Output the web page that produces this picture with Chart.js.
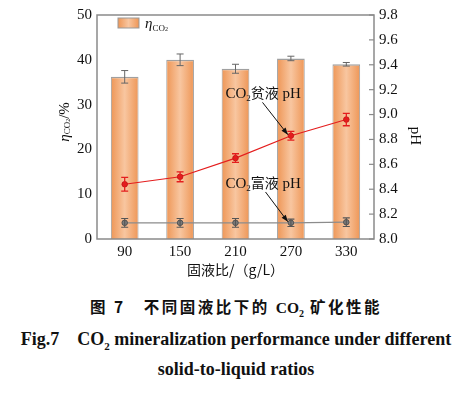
<!DOCTYPE html>
<html><head><meta charset="utf-8">
<script src="https://cdn.jsdelivr.net/npm/chart.js@4/dist/chart.umd.min.js"></script>
<style>
html,body{margin:0;padding:0;background:#fff;width:472px;height:394px;overflow:hidden;}
#wrap{position:relative;width:472px;height:285px;}
.cap{position:absolute;left:0;width:472px;text-align:center;color:#111;white-space:nowrap;line-height:1.2;}
#c1{top:297px;font-family:"Noto Sans CJK SC",sans-serif;font-size:15.5px;font-weight:bold;letter-spacing:2.5px;}
#c2{top:329px;font-family:"Liberation Serif",serif;font-size:18px;font-weight:bold;}
#c3{top:359px;font-family:"Liberation Serif",serif;font-size:18px;font-weight:bold;}
sub{line-height:0;}
</style></head><body>
<div id="wrap"><canvas id="ch" width="472" height="285"></canvas></div>
<div class="cap" id="c1">图 7　不同固液比下的 <span style="font-family:'Liberation Serif',serif;letter-spacing:0">CO<sub style="font-size:10px">2</sub></span> 矿化性能</div>
<div class="cap" id="c2">Fig.7　CO<sub style="font-size:11px">2</sub> mineralization performance under different</div>
<div class="cap" id="c3">solid-to-liquid ratios</div>
<script>
const categories = ["90","150","210","270","330"];
const etaCO2 = [36.2, 40.0, 38.0, 40.3, 39.0];
const etaErr = [1.4, 1.3, 1.0, 0.5, 0.4];
const leanPH = [8.44, 8.50, 8.65, 8.83, 8.96];
const leanErr = [0.055, 0.04, 0.035, 0.035, 0.05];
const richPH = [8.13, 8.13, 8.13, 8.13, 8.135];
const richErr = [0.035, 0.035, 0.035, 0.03, 0.035];
const leftTicks = [0,10,20,30,40,50];
const rightTicks = [8.0,8.2,8.4,8.6,8.8,9.0,9.2,9.4,9.6,9.8];

const SERIF = '"Liberation Serif", serif';
const CJK = '"Noto Sans CJK SC", sans-serif';
const BAR_PCT = 0.5;

function barGradient(ctx){
  const chart = ctx.chart;
  const xs = chart.scales && chart.scales.x;
  if(!xs || ctx.dataIndex === undefined || !isFinite(xs.getPixelForValue(ctx.dataIndex))) return '#F2AC78';
  const x = xs.getPixelForValue(ctx.dataIndex);
  const w = xs.width / categories.length * BAR_PCT;
  const g = chart.ctx.createLinearGradient(x - w/2, 0, x + w/2, 0);
  g.addColorStop(0, '#EE9656');
  g.addColorStop(0.5, '#F8C6A0');
  g.addColorStop(1, '#EE9656');
  return g;
}

function drawErr(c, x, y1, y2, cap, color, lw){
  c.save(); c.strokeStyle=color; c.lineWidth=lw;
  c.beginPath();
  c.moveTo(x,y1); c.lineTo(x,y2);
  c.moveTo(x-cap,y1); c.lineTo(x+cap,y1);
  c.moveTo(x-cap,y2); c.lineTo(x+cap,y2);
  c.stroke(); c.restore();
}

function drawSubText(c, parts, x, y, align){
  c.save();
  let total = 0;
  parts.forEach(p=>{ c.font = p.sub ? p.subFont : p.font; p.w = c.measureText(p.t).width; total += p.w; });
  let cx = align==='center' ? x - total/2 : x;
  parts.forEach(p=>{
    c.font = p.sub ? p.subFont : p.font;
    c.fillText(p.t, cx, y + (p.sub ? 3 : 0));
    cx += p.w;
  });
  c.restore();
  return total;
}

function arrow(c, x1,y1,x2,y2){
  c.save(); c.strokeStyle='#111'; c.fillStyle='#111'; c.lineWidth=1;
  c.beginPath(); c.moveTo(x1,y1); c.lineTo(x2,y2); c.stroke();
  const a = Math.atan2(y2-y1,x2-x1), L=7, W=2.6;
  c.beginPath();
  c.moveTo(x2,y2);
  c.lineTo(x2 - L*Math.cos(a) + W*Math.sin(a), y2 - L*Math.sin(a) - W*Math.cos(a));
  c.lineTo(x2 - L*Math.cos(a) - W*Math.sin(a), y2 - L*Math.sin(a) + W*Math.cos(a));
  c.closePath(); c.fill(); c.restore();
}

const custom = {
  id:'custom',
  afterDatasetsDraw(chart){
    const c = chart.ctx, xs = chart.scales.x, yl = chart.scales.y, yr = chart.scales.y1;
    const a = chart.chartArea;
    categories.forEach((_,i)=>{
      const x = xs.getPixelForValue(i);
      drawErr(c, x, yl.getPixelForValue(etaCO2[i]+etaErr[i]), yl.getPixelForValue(etaCO2[i]-etaErr[i]), 3.5, '#666', 1);
      drawErr(c, x, yr.getPixelForValue(leanPH[i]+leanErr[i]), yr.getPixelForValue(leanPH[i]-leanErr[i]), 3.5, '#E41E1E', 1.3);
      drawErr(c, x, yr.getPixelForValue(richPH[i]+richErr[i]), yr.getPixelForValue(richPH[i]-richErr[i]), 3.5, '#555', 1.1);
    });
    c.save(); c.strokeStyle='#8a8a8a'; c.lineWidth=1.5;
    c.strokeRect(a.left, a.top, a.right-a.left, a.bottom-a.top);
    c.lineWidth=1.2;
    rightTicks.forEach(v=>{ const y=yr.getPixelForValue(v); c.beginPath(); c.moveTo(a.right-5,y); c.lineTo(a.right,y); c.stroke(); });
    c.restore();
    // legend
    c.save();
    const lx = a.left+21, ly = a.top+3;
    const g = c.createLinearGradient(lx,0,lx+21,0);
    g.addColorStop(0,'#EE9656'); g.addColorStop(0.5,'#F8C6A0'); g.addColorStop(1,'#EE9656');
    c.fillStyle=g; c.fillRect(lx,ly,21,10);
    c.strokeStyle='#999'; c.lineWidth=1; c.strokeRect(lx,ly,21,10);
    c.fillStyle='#111'; c.textBaseline='alphabetic'; c.textAlign='left';
    drawSubText(c,[{t:'η',font:'italic 15px '+SERIF},{t:'CO',sub:true,subFont:'9px '+SERIF},{t:'2',sub:true,subFont:'6px '+SERIF}], lx+27, ly+10,'left');
    c.restore();
    // annotations
    c.save(); c.fillStyle='#111'; c.textBaseline='alphabetic';
    const mainF = '15px '+SERIF, subF='9px '+SERIF, cjkF='14px '+CJK;
    const x210 = xs.getPixelForValue(2);
    const lab1x = x210 - 10, lab1y = yr.getPixelForValue(9.13);
    drawSubText(c,[{t:'CO',font:mainF},{t:'2',sub:true,subFont:subF},{t:'贫液',font:cjkF},{t:' pH',font:mainF}], lab1x, lab1y,'left');
    const x270 = xs.getPixelForValue(3);
    arrow(c, lab1x+37, lab1y+4, x270-3, yr.getPixelForValue(leanPH[3])-1);
    const lab2y = yr.getPixelForValue(8.41);
    drawSubText(c,[{t:'CO',font:mainF},{t:'2',sub:true,subFont:subF},{t:'富液',font:cjkF},{t:' pH',font:mainF}], lab1x, lab2y,'left');
    arrow(c, lab1x+40, lab2y+4, x270-3, yr.getPixelForValue(richPH[3])-1);
    c.restore();
    // axis titles
    c.save(); c.fillStyle='#111';
    c.translate(a.left-32, (a.top+a.bottom)/2-5); c.rotate(-Math.PI/2);
    c.textBaseline='middle';
    drawSubText(c,[{t:'η',font:'italic 15px '+SERIF},{t:'CO',sub:true,subFont:'9px '+SERIF},{t:'2',sub:true,subFont:'6px '+SERIF},{t:'/%',font:'15px '+SERIF}],0,0,'center');
    c.restore();
    c.save(); c.fillStyle='#111';
    c.translate(a.right+41, (a.top+a.bottom)/2+9); c.rotate(Math.PI/2);
    c.textBaseline='middle'; c.textAlign='center'; c.font='15px '+SERIF;
    c.fillText('pH',0,0);
    c.restore();
  }
};

new Chart(document.getElementById('ch'),{
  data:{
    labels:categories,
    datasets:[
      {type:'line', label:'CO2贫液 pH', data:leanPH, yAxisID:'y1', borderColor:'#E41E1E', borderWidth:1.2,
        pointRadius:2.8, pointBackgroundColor:'#E41E1E', pointBorderColor:'#C01010', pointBorderWidth:0.8, order:1},
      {type:'line', label:'CO2富液 pH', data:richPH, yAxisID:'y1', borderColor:'#8c8c8c', borderWidth:1.2,
        pointRadius:2.8, pointBackgroundColor:'#7a7a7a', pointBorderColor:'#444', pointBorderWidth:0.8, order:2},
      {type:'bar', label:'ηCO2', data:etaCO2, yAxisID:'y', backgroundColor:barGradient, borderColor:'#a0a0a0',
        borderWidth:{top:1.5,left:1,right:1,bottom:0}, barPercentage:BAR_PCT, categoryPercentage:1, order:3}
    ]
  },
  options:{
    responsive:false, animation:false,
    layout:{padding:{top:15,left:0,right:0,bottom:7}},
    plugins:{legend:{display:false}, tooltip:{enabled:false}},
    scales:{
      x:{offset:true, grid:{display:false,drawTicks:false}, border:{display:false},
        ticks:{font:{family:SERIF,size:15},color:'#111',padding:4},
        title:{display:true,text:'固液比/（g/L）',font:{family:CJK,size:14},color:'#111',padding:{top:0,bottom:0}},
        afterFit(s){s.height=39;}},
      y:{position:'left', min:0, max:50, grid:{display:false,drawTicks:false}, border:{display:false},
        afterBuildTicks(s){s.ticks=leftTicks.map(v=>({value:v}));},
        ticks:{font:{family:SERIF,size:15},color:'#111',padding:5},
        afterFit(s){s.width=97;}},
      y1:{position:'right', min:8.0, max:9.8, grid:{display:false,drawTicks:false}, border:{display:false},
        afterBuildTicks(s){s.ticks=rightTicks.map(v=>({value:v}));},
        ticks:{font:{family:SERIF,size:15},color:'#111',padding:5,callback:v=>Number(v).toFixed(1)},
        afterFit(s){s.width=98;}}
    }
  },
  plugins:[custom]
});
</script>
</body></html>
